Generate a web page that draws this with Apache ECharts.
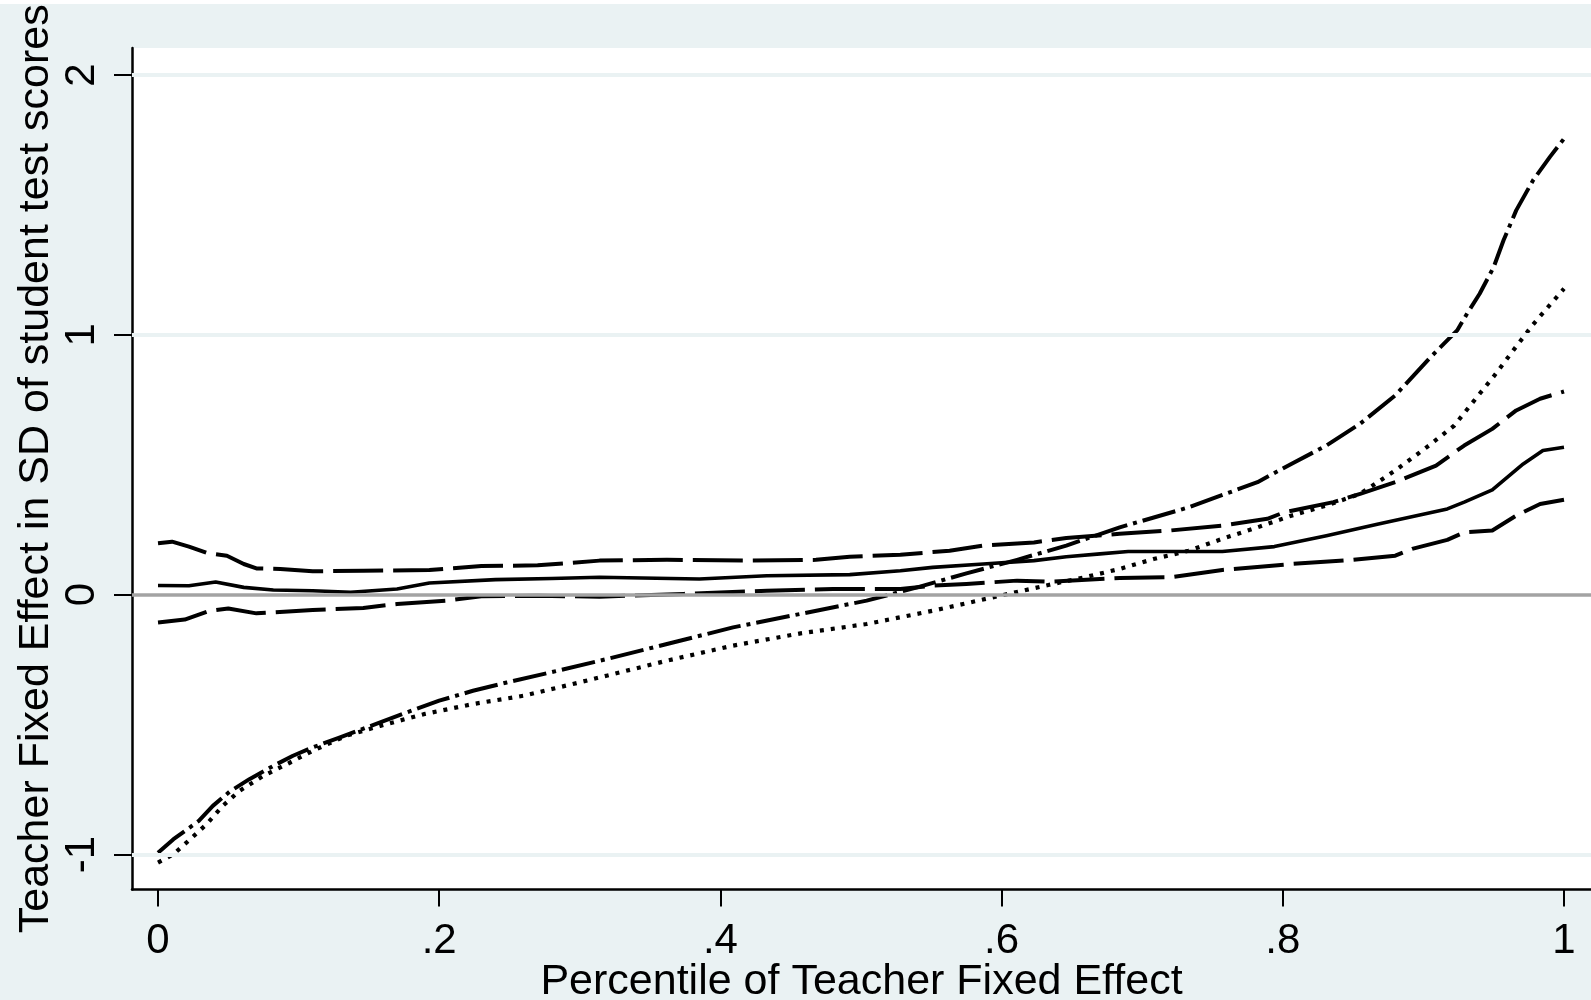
<!DOCTYPE html>
<html>
<head>
<meta charset="utf-8">
<script src="https://cdn.jsdelivr.net/npm/echarts@6/dist/echarts.min.js"></script>
<style>
  html, body { margin: 0; padding: 0; background: #EAF2F3; }
  #chart { width: 1591px; height: 1000px; }
</style>
</head>
<body>
<div id="chart"></div>
<script>
// Axis ticks and titles
const xTicks = [0, 0.2, 0.4, 0.6, 0.8, 1];
const yTicks = [-1, 0, 1, 2];
const gridValues = [-1, 1, 2];
const xTitle = 'Percentile of Teacher Fixed Effect';
const yTitle = 'Teacher Fixed Effect in SD of student test scores';

// Point estimate (solid), [percentile, effect]
const pointEstimate = [
  [0, 0.035], [0.022, 0.034], [0.041, 0.049], [0.061, 0.028], [0.082, 0.018],
  [0.11, 0.015], [0.137, 0.009], [0.17, 0.022], [0.193, 0.045], [0.24, 0.058],
  [0.28, 0.062], [0.314, 0.067], [0.385, 0.06], [0.433, 0.073], [0.492, 0.077],
  [0.528, 0.092], [0.551, 0.105], [0.587, 0.118], [0.623, 0.131], [0.646, 0.146],
  [0.67, 0.157], [0.69, 0.166], [0.757, 0.166], [0.794, 0.185], [0.831, 0.227],
  [0.868, 0.272], [0.917, 0.33], [0.929, 0.356], [0.949, 0.403], [0.971, 0.503],
  [0.985, 0.555], [1.0, 0.567]
];

// Upper confidence bound (long dash)
const upperBound = [
  [0, 0.198], [0.01, 0.204], [0.022, 0.185], [0.035, 0.16], [0.049, 0.15],
  [0.061, 0.118], [0.07, 0.101], [0.087, 0.099], [0.11, 0.09], [0.146, 0.092],
  [0.193, 0.095], [0.23, 0.11], [0.27, 0.113], [0.314, 0.131], [0.362, 0.134],
  [0.421, 0.131], [0.468, 0.134], [0.492, 0.146], [0.528, 0.154], [0.563, 0.169],
  [0.587, 0.189], [0.623, 0.201], [0.646, 0.218], [0.684, 0.234], [0.72, 0.247],
  [0.757, 0.266], [0.789, 0.292], [0.801, 0.317], [0.836, 0.356], [0.855, 0.388],
  [0.88, 0.433], [0.909, 0.497], [0.929, 0.574], [0.949, 0.638], [0.966, 0.709],
  [0.983, 0.754], [1.0, 0.782]
];

// Lower confidence bound (long dash)
const lowerBound = [
  [0, -0.107], [0.019, -0.096], [0.037, -0.062], [0.05, -0.053], [0.07, -0.072],
  [0.11, -0.059], [0.146, -0.051], [0.17, -0.036], [0.205, -0.023], [0.23, -0.006],
  [0.27, -0.004], [0.314, -0.008], [0.374, 0.003], [0.433, 0.015], [0.48, 0.022],
  [0.528, 0.022], [0.551, 0.035], [0.575, 0.041], [0.611, 0.054], [0.634, 0.05],
  [0.684, 0.064], [0.72, 0.067], [0.757, 0.095], [0.806, 0.118], [0.85, 0.134],
  [0.88, 0.15], [0.892, 0.176], [0.917, 0.211], [0.929, 0.24], [0.949, 0.247],
  [0.966, 0.304], [0.983, 0.349], [1.0, 0.365]
];

// Dash-dot curve
const dashDotCurve = [
  [0, -0.993], [0.011, -0.941], [0.029, -0.871], [0.039, -0.813], [0.051, -0.758],
  [0.065, -0.71], [0.082, -0.659], [0.096, -0.62], [0.11, -0.588], [0.129, -0.55],
  [0.158, -0.492], [0.177, -0.453], [0.2, -0.408], [0.224, -0.37], [0.248, -0.338],
  [0.284, -0.293], [0.319, -0.248], [0.362, -0.19], [0.409, -0.126], [0.457, -0.074],
  [0.504, -0.023], [0.54, 0.028], [0.575, 0.082], [0.611, 0.134], [0.646, 0.189],
  [0.684, 0.259], [0.733, 0.336], [0.782, 0.433], [0.806, 0.503], [0.831, 0.574],
  [0.855, 0.658], [0.88, 0.767], [0.904, 0.908], [0.924, 1.017], [0.931, 1.081],
  [0.94, 1.158], [0.95, 1.261], [0.957, 1.364], [0.966, 1.479], [0.978, 1.595],
  [0.99, 1.685], [1.0, 1.755]
];

// Dotted curve
const dottedCurve = [
  [0, -1.031], [0.011, -0.999], [0.023, -0.941], [0.035, -0.881], [0.046, -0.813],
  [0.058, -0.755], [0.075, -0.697], [0.094, -0.646], [0.11, -0.601], [0.134, -0.543],
  [0.158, -0.505], [0.189, -0.46], [0.224, -0.421], [0.26, -0.389], [0.295, -0.344],
  [0.319, -0.312], [0.362, -0.254], [0.409, -0.196], [0.457, -0.149], [0.504, -0.113],
  [0.551, -0.062], [0.599, -0.004], [0.634, 0.038], [0.659, 0.067], [0.684, 0.099],
  [0.708, 0.137], [0.733, 0.169], [0.757, 0.215], [0.782, 0.259], [0.806, 0.304],
  [0.831, 0.343], [0.855, 0.388], [0.88, 0.478], [0.904, 0.574], [0.922, 0.651],
  [0.938, 0.76], [0.95, 0.84], [0.966, 0.955], [0.978, 1.04], [1.0, 1.178]
];

const FONT = "'Liberation Sans', Arial, Helvetica, sans-serif";
const BG = '#EAF2F3';

const fmtX = v => (v === 0 || v === 1) ? String(v) : String(v).replace(/^0/, '');

function curve(name, data, width, type) {
  return {
    name, type: 'line', data, z: 3,
    showSymbol: false, symbol: 'none', smooth: false, animation: false,
    lineStyle: { color: '#000', width, type, cap: 'butt', join: 'round' }
  };
}

const chart = echarts.init(document.getElementById('chart'), null, { renderer: 'canvas' });
chart.setOption({
  backgroundColor: BG,
  animation: false,
  textStyle: { fontFamily: FONT },
  graphic: [{
    type: 'rect', left: 0, top: 0, z: 0,
    shape: { width: 1591, height: 4 }, style: { fill: '#fff' }
  }],
  grid: {
    left: 132, right: 0, top: 48, bottom: 110.5,
    containLabel: false, outerBoundsMode: 'none',
    show: true, backgroundColor: '#fff', borderWidth: 0
  },
  xAxis: {
    type: 'value', min: -0.0185, max: 1.0192,
    axisLine: { show: true, onZero: false, lineStyle: { color: '#000', width: 2.5 } },
    axisTick: { show: true, customValues: xTicks, length: 17, lineStyle: { color: '#000', width: 2 } },
    axisLabel: { customValues: xTicks, formatter: fmtX, fontSize: 42, color: '#000', margin: 31, fontFamily: FONT },
    splitLine: { show: false },
    name: xTitle, nameLocation: 'middle', nameGap: 71, nameMoveOverlap: false,
    nameTextStyle: { fontSize: 43, color: '#000', fontFamily: FONT }
  },
  yAxis: {
    type: 'value', min: -1.1348, max: 2.104,
    axisLine: { show: true, onZero: false, lineStyle: { color: '#000', width: 2.5 } },
    axisTick: { show: true, customValues: yTicks, length: 18, lineStyle: { color: '#000', width: 2 } },
    axisLabel: { customValues: yTicks, rotate: 90, fontSize: 42, color: '#000', margin: 29, fontFamily: FONT },
    splitLine: { show: false },
    name: yTitle, nameLocation: 'middle', nameGap: 74, nameRotate: 90, nameMoveOverlap: false,
    nameTextStyle: { fontSize: 43, color: '#000', fontFamily: FONT }
  },
  series: [
    {
      name: 'reference lines', type: 'line', data: [], z: 1, silent: true,
      markLine: {
        silent: true, symbol: 'none', animation: false, label: { show: false },
        data: gridValues.map(v => ({ yAxis: v, lineStyle: { color: BG, width: 4, type: 'solid' } }))
          .concat([{ yAxis: 0, lineStyle: { color: '#A3A3A3', width: 3.5, type: 'solid' } }])
      }
    },
    curve('Point estimate', pointEstimate, 3.6, 'solid'),
    curve('Upper bound', upperBound, 4, [50, 10]),
    curve('Lower bound', lowerBound, 4, [50, 10]),
    curve('Dash-dot', dashDotCurve, 4, [34, 6, 4, 6]),
    curve('Dotted', dottedCurve, 4.2, [4, 7])
  ]
});
</script>
</body>
</html>
